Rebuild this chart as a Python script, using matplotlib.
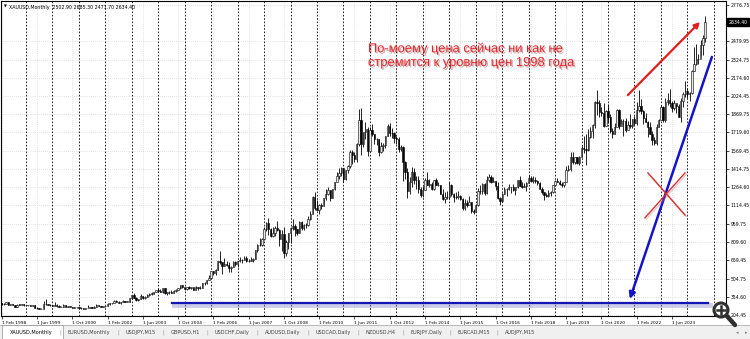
import numpy as np
import pandas as pd
import matplotlib
matplotlib.use("Agg")
import matplotlib.pyplot as plt
import matplotlib.patheffects as pe
from matplotlib.patches import Rectangle, Circle

# XAUUSD monthly candles, Feb 1998 .. Sep 2024
first_open = 304.0
close = [
    297, 301, 310, 293, 296, 288, 273, 293, 292, 294, 288,                  # 1998 (Feb-Dec)
    287, 287, 279, 286, 268, 261, 255, 254, 299, 299, 292, 290,             # 1999
    283, 293, 278, 275, 272, 288, 276, 277, 273, 264, 269, 273,             # 2000
    265, 267, 258, 264, 267, 270, 265, 273, 293, 279, 275, 277,             # 2001
    282, 297, 302, 309, 326, 318, 304, 312, 324, 317, 318, 347,             # 2002
    368, 347, 334, 337, 364, 346, 354, 375, 384, 384, 398, 416,             # 2003
    402, 397, 426, 388, 394, 395, 391, 408, 416, 428, 453, 438,             # 2004
    422, 435, 428, 435, 416, 437, 429, 433, 473, 470, 495, 517,             # 2005
    569, 556, 582, 654, 643, 614, 632, 624, 599, 604, 647, 632,             # 2006
    651, 665, 662, 680, 658, 650, 666, 672, 743, 789, 783, 834,             # 2007
    923, 972, 916, 865, 886, 928, 912, 833, 880, 718, 815, 882,             # 2008
    928, 942, 916, 883, 979, 926, 954, 955, 1001, 1040, 1182, 1096,         # 2009
    1081, 1118, 1113, 1179, 1212, 1244, 1180, 1248, 1307, 1357, 1386, 1421, # 2010
    1332, 1410, 1439, 1556, 1536, 1500, 1628, 1826, 1620, 1722, 1746, 1565, # 2011
    1738, 1710, 1668, 1664, 1561, 1604, 1614, 1692, 1772, 1719, 1712, 1675, # 2012
    1663, 1579, 1596, 1472, 1393, 1234, 1312, 1395, 1327, 1323, 1250, 1202, # 2013
    1244, 1326, 1284, 1296, 1250, 1322, 1282, 1287, 1210, 1172, 1182, 1184, # 2014
    1283, 1213, 1183, 1183, 1190, 1172, 1095, 1132, 1115, 1142, 1065, 1061, # 2015
    1118, 1238, 1234, 1293, 1215, 1322, 1351, 1309, 1316, 1273, 1173, 1152, # 2016
    1211, 1249, 1249, 1268, 1268, 1242, 1269, 1322, 1280, 1271, 1275, 1303, # 2017
    1345, 1318, 1325, 1315, 1298, 1253, 1223, 1201, 1192, 1215, 1222, 1282, # 2018
    1321, 1313, 1292, 1284, 1305, 1409, 1413, 1520, 1472, 1513, 1463, 1517, # 2019
    1589, 1585, 1577, 1686, 1730, 1781, 1975, 1968, 1886, 1879, 1776, 1898, # 2020
    1847, 1734, 1708, 1769, 1906, 1770, 1814, 1813, 1743, 1783, 1774, 1829, # 2021
    1797, 1909, 1937, 1897, 1837, 1807, 1766, 1711, 1660, 1633, 1768, 1824, # 2022
    1928, 1827, 1969, 1990, 1962, 1919, 1965, 1940, 1849, 1983, 2036, 2063, # 2023
    2039, 2044, 2230, 2286, 2327, 2326, 2447, 2503, 2634.4,                 # 2024 (Jan-Sep)
]
high = [
    305, 303, 315, 311, 301, 297, 291, 297, 301, 299, 296,
    293, 291, 289, 293, 290, 270, 264, 264, 326, 338, 301, 295,
    289, 313, 299, 285, 280, 294, 290, 281, 276, 273, 270, 274,
    273, 269, 268, 265, 292, 272, 271, 279, 296, 293, 280, 282,
    282, 302, 304, 309, 327, 329, 322, 312, 327, 325, 323, 349,
    373, 389, 352, 338, 377, 364, 365, 377, 392, 397, 401, 417,
    427, 421, 428, 431, 395, 405, 410, 414, 418, 432, 457, 456,
    430, 437, 444, 437, 432, 443, 433, 443, 474, 478, 497, 540,
    569, 574, 587, 654, 733, 630, 677, 650, 643, 609, 650, 651,
    653, 691, 667, 692, 693, 671, 683, 682, 744, 795, 848, 843,
    934, 975, 1012, 925, 939, 944, 988, 916, 910, 936, 832, 882,
    937, 1006, 958, 917, 982, 989, 958, 966, 1024, 1070, 1194, 1227,
    1162, 1124, 1139, 1180, 1249, 1265, 1245, 1250, 1308, 1388, 1424, 1432,
    1424, 1411, 1447, 1576, 1577, 1556, 1632, 1912, 1921, 1725, 1804, 1763,
    1764, 1791, 1709, 1673, 1666, 1640, 1631, 1692, 1790, 1796, 1754, 1725,
    1694, 1685, 1617, 1605, 1487, 1424, 1348, 1434, 1424, 1361, 1362, 1267,
    1280, 1345, 1392, 1331, 1306, 1325, 1345, 1312, 1287, 1255, 1222, 1238,
    1307, 1289, 1220, 1224, 1232, 1205, 1174, 1170, 1157, 1191, 1142, 1088,
    1127, 1263, 1283, 1304, 1303, 1362, 1375, 1367, 1352, 1318, 1306, 1182,
    1220, 1264, 1261, 1295, 1270, 1296, 1270, 1326, 1357, 1306, 1299, 1309,
    1366, 1361, 1356, 1354, 1326, 1310, 1266, 1220, 1214, 1243, 1237, 1284,
    1326, 1346, 1324, 1310, 1306, 1439, 1452, 1555, 1557, 1518, 1516, 1525,
    1611, 1689, 1704, 1747, 1765, 1786, 1981, 2075, 1992, 1933, 1965, 1906,
    1959, 1871, 1755, 1798, 1913, 1916, 1832, 1834, 1836, 1814, 1877, 1831,
    1853, 1974, 2070, 1998, 1910, 1879, 1814, 1807, 1735, 1682, 1786, 1833,
    1949, 1936, 2009, 2048, 2079, 1984, 1987, 1949, 1953, 2009, 2052, 2146,
    2089, 2052, 2236, 2431, 2450, 2369, 2484, 2531, 2685.3,
]
low = [
    289, 291, 299, 290, 287, 286, 271, 273, 286, 289, 284,
    282, 284, 277, 278, 266, 257, 253, 252, 254, 292, 290, 280,
    281, 282, 276, 271, 270, 272, 275, 272, 269, 263, 263, 267,
    263, 254, 255, 256, 264, 264, 263, 265, 271, 278, 271, 273,
    276, 282, 292, 300, 308, 315, 302, 300, 312, 311, 315, 314,
    342, 344, 320, 320, 337, 341, 342, 353, 367, 368, 378, 396,
    399, 393, 390, 381, 375, 382, 385, 389, 398, 411, 422, 434,
    414, 411, 425, 421, 413, 414, 414, 425, 432, 459, 467, 495,
    516, 541, 536, 582, 633, 543, 614, 614, 560, 561, 606, 609,
    603, 648, 636, 660, 649, 642, 653, 642, 670, 729, 777, 782,
    832, 905, 870, 852, 850, 864, 900, 776, 735, 681, 693, 753,
    802, 915, 865, 866, 884, 908, 911, 931, 944, 990, 1040, 1075,
    1075, 1045, 1087, 1113, 1156, 1204, 1155, 1175, 1242, 1314, 1331, 1360,
    1308, 1329, 1381, 1422, 1462, 1477, 1479, 1604, 1532, 1603, 1668, 1523,
    1563, 1689, 1628, 1613, 1527, 1550, 1564, 1590, 1689, 1694, 1672, 1636,
    1626, 1555, 1565, 1321, 1338, 1180, 1207, 1270, 1291, 1251, 1221, 1182,
    1182, 1239, 1281, 1268, 1240, 1241, 1281, 1273, 1206, 1161, 1131, 1170,
    1167, 1191, 1142, 1169, 1171, 1162, 1077, 1077, 1098, 1136, 1052, 1046,
    1062, 1108, 1207, 1208, 1199, 1208, 1310, 1301, 1306, 1241, 1171, 1122,
    1145, 1208, 1195, 1243, 1214, 1236, 1204, 1262, 1274, 1261, 1264, 1236,
    1303, 1307, 1303, 1301, 1281, 1250, 1211, 1160, 1181, 1182, 1196, 1221,
    1276, 1311, 1281, 1266, 1268, 1306, 1400, 1400, 1459, 1459, 1455, 1454,
    1517, 1547, 1451, 1570, 1670, 1670, 1757, 1863, 1849, 1860, 1764, 1776,
    1802, 1717, 1677, 1705, 1765, 1750, 1789, 1688, 1721, 1746, 1758, 1753,
    1780, 1780, 1890, 1872, 1787, 1805, 1681, 1709, 1615, 1617, 1617, 1765,
    1823, 1804, 1810, 1950, 1932, 1893, 1903, 1884, 1847, 1810, 1931, 2016,
    2002, 1984, 2039, 2228, 2277, 2286, 2353, 2364, 2471.7,
]

price_ticks = [2776.75, 2479.95, 2324.75, 2174.60, 2024.45, 1869.75, 1719.60,
               1569.45, 1414.75, 1264.60, 1114.45, 959.75, 809.60, 659.45,
               504.75, 354.60, 204.45]
date_labels = ["1 Feb 1998", "1 Jun 1999", "1 Oct 2000", "1 Feb 2002", "1 Jun 2003",
               "1 Oct 2004", "1 Feb 2006", "1 Jun 2007", "1 Oct 2008", "1 Feb 2010",
               "1 Jun 2011", "1 Oct 2012", "1 Feb 2014", "1 Jun 2015", "1 Oct 2016",
               "1 Feb 2018", "1 Jun 2019", "1 Oct 2020", "1 Feb 2022", "1 Jun 2023"]
header = "XAUUSD,Monthly  2502.90 2685.30 2471.70 2634.40"
last_price = 2634.40
note_lines = ["По-моему цена сейчас ни как не", "стремится к уровню цен 1998 года"]
tab_names = ["XAUUSD,Monthly", "EURUSD,Monthly", "USDJPY,M15", "GBPUSD,H1",
             "USDCHF,Daily", "AUDUSD,Daily", "USDCAD,Daily", "NZDUSD,H4",
             "EURJPY,Daily", "EURCAD,M15", "AUDJPY,M15"]

# hand-drawn objects (month index from Feb 1998, price)
level_1998 = 306
level_span = (77.2, 320.3)
blue_trend = ((322.1, 2346), (284.9, 339))
red_arrow = ((284.0, 2030), (316.7, 2636))
red_cross = [((293.1, 1384), (309.9, 1035)), ((309.9, 1384), (291.7, 1011))]
note_pos = (166.1, 2412, 2296)


def month_index(ts):
    return (ts.year - 1998) * 12 + ts.month - 2


fig = plt.figure(figsize=(7.5, 3.39), dpi=100)
ax = fig.add_axes([1 / 750, 23 / 339, 725 / 750, 315 / 339])
ax.set_xlim(-0.3, 328.5)
ax.set_ylim(197.9, 2809.9)

# grid + yearly period separators
date_pos = [month_index(pd.to_datetime(d, format="%d %b %Y")) for d in date_labels]
for p in price_ticks:
    ax.axhline(p, color="#c8c8c8", lw=0.5, ls=(0, (1, 2)), zorder=1)
for d in date_pos:
    ax.axvline(d, color="#c8c8c8", lw=0.5, ls=(0, (1, 2)), zorder=1)
for yr in range(1999, 2026):
    ax.axvline((yr - 1998) * 12 - 1, color="black", lw=0.6, ls=(0, (2, 2)), zorder=1)

# candles
months = np.arange(len(close))
closes = np.array(close, dtype=float)
opens = np.array([first_open] + close[:-1], dtype=float)
up = closes >= opens
ax.vlines(months, low, high, color="black", lw=0.6, zorder=3)
body = np.maximum(np.abs(closes - opens), 2.0)
ax.bar(months, body, bottom=np.minimum(opens, closes), width=0.62,
       color=["#e8e8e8" if u else "black" for u in up], edgecolor="black",
       linewidth=0.4, zorder=4)

# drawn objects
glow = [pe.SimpleLineShadow(offset=(1.2, -1.2), shadow_color="#7070c0", alpha=0.35, linewidth=3.5),
        pe.Normal()]
ax.plot(level_span, [level_1998, level_1998], color="#1414b4", lw=1.6,
        path_effects=glow, zorder=5)
ax.annotate("", xy=blue_trend[1], xytext=blue_trend[0],
            arrowprops=dict(arrowstyle="-|>", color="#1414c8", lw=1.8,
                            mutation_scale=9, shrinkA=0, shrinkB=0), zorder=6)
ax.annotate("", xy=red_arrow[1], xytext=red_arrow[0],
            arrowprops=dict(arrowstyle="-|>", color="#e01e1e", lw=1.6,
                            mutation_scale=8, shrinkA=0, shrinkB=0), zorder=6)
for a, b in red_cross:
    ax.plot([a[0], b[0]], [a[1], b[1]], color="#d83030", lw=1.0, zorder=6,
            path_effects=[pe.SimpleLineShadow(offset=(1, -1), shadow_color="#c08080", alpha=0.4),
                          pe.Normal()])
for txt, yv in zip(note_lines, note_pos[1:]):
    ax.text(note_pos[0], yv, txt, color="#e3262b", fontsize=9.3, va="center", ha="left",
            family=["Liberation Sans", "DejaVu Sans"], zorder=7,
            path_effects=[pe.withSimplePatchShadow(offset=(1, -1), shadow_rgbFace="#801010", alpha=0.35)])

# axes styling
for s in ax.spines.values():
    s.set_linewidth(0.8)
    s.set_color("black")
ax.yaxis.tick_right()
ax.set_yticks(price_ticks)
ax.set_yticklabels([f"{p:.2f}" for p in price_ticks])
ax.tick_params(axis="y", length=2, width=0.5, pad=1.2, labelsize=3.3)
ax.set_xticks(date_pos)
ax.set_xticklabels(date_labels)
ax.tick_params(axis="x", length=2, width=0.5, pad=1.5, labelsize=3.2)
for lab in ax.get_xticklabels():
    lab.set_ha("left")
ax.text(1.003, last_price, f"{last_price:.2f}", transform=ax.get_yaxis_transform(),
        fontsize=3.3, color="white", va="center", ha="left", zorder=8,
        bbox=dict(boxstyle="square,pad=0.3", fc="black", ec="black"))

# terminal chrome in pixel coordinates
ui = fig.add_axes([0, 0, 1, 1], zorder=10)
ui.set_xlim(0, 750)
ui.set_ylim(339, 0)
ui.axis("off")
ui.text(4, 7, "▼", fontsize=2.6, va="center", ha="left")
ui.text(9, 7, header, fontsize=3.4, va="center", ha="left")

ui.add_patch(Rectangle((0, 325), 750, 14, fc="#f0f0f0", ec="none", zorder=1))
ui.plot([0, 750], [325, 325], color="#a0a0a0", lw=0.5, zorder=2)
fig.canvas.draw()
rend = fig.canvas.get_renderer()
x = 10
for k, name in enumerate(tab_names):
    t = ui.text(x, 332.5, name, fontsize=3.6, va="center", ha="left", zorder=4,
                color="black" if k == 0 else "#404040")
    w = t.get_window_extent(rend).width
    if k == 0:
        ui.add_patch(Rectangle((2, 325), w + 18, 14, fc="white", ec="#909090", lw=0.5, zorder=3))
    else:
        ui.text(x - 7.5, 332.5, "|", fontsize=3.6, va="center", ha="center", color="#909090", zorder=4)
    x += w + 15
ui.text(737, 333, "◂", fontsize=3.5, va="center", ha="center", color="#808080", zorder=4)
ui.text(746, 333, "▸", fontsize=3.5, va="center", ha="center", color="#808080", zorder=4)

# zoom magnifier overlay
ui.plot([726, 735], [315, 325], color="#303030", lw=3.2, solid_capstyle="round", zorder=5)
ui.add_patch(Circle((721, 310), 7, fc="white", ec="#303030", lw=2.2, zorder=6))
ui.plot([717, 725], [310, 310], color="#303030", lw=1.8, zorder=7)
ui.plot([721, 721], [306, 314], color="#303030", lw=1.8, zorder=7)

fig.savefig("out.png", dpi=100)
